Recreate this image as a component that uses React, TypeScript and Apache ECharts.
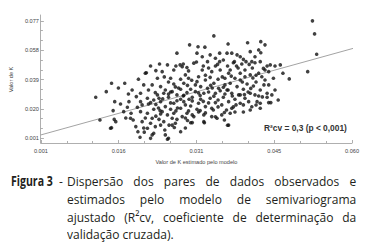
import React, { useEffect, useRef } from 'react';
import * as echarts from 'echarts';

// Axis setup
const xMin = 0.001;
const xMax = 0.06;
const xInterval = 0.01475;
const yMin = 0.001;
const yMax = 0.077;
const yInterval = 0.019;
const xTickLabels = ['0.001', '0.016', '0.031', '0.045', '0.060'];
const yTickLabels = ['0.001', '0.020', '0.039', '0.058', '0.077'];

const xName = 'Valor de K estimado pelo modelo';
const yName = 'Valor de K';
const annotation = 'R²cv = 0,3 (p < 0,001)';

// Fitted line end points [estimated, observed]
const regressionLine: [number, number][] = [
  [0.001, 0.003],
  [0.0602, 0.0592],
];

// Scatter pairs [estimated K, observed K]
const kPairs: [number, number][] = [
  [0.0218, 0.0478], [0.025, 0.0485], [0.0266, 0.0478], [0.0274, 0.0485], [0.0278, 0.0473],
  [0.03, 0.0496], [0.0326, 0.0506], [0.0349, 0.0506], [0.0364, 0.0478], [0.0377, 0.0506],
  [0.0391, 0.0491], [0.0399, 0.0506], [0.0416, 0.0499], [0.0426, 0.0506], [0.0439, 0.0478],
  [0.0208, 0.0431], [0.024, 0.0441], [0.0262, 0.0452], [0.0284, 0.042], [0.0316, 0.0452],
  [0.0334, 0.0441], [0.035, 0.0452], [0.0366, 0.0431], [0.0388, 0.0431], [0.0407, 0.042],
  [0.0423, 0.0431], [0.0442, 0.0441], [0.0231, 0.0398], [0.0256, 0.0398], [0.0275, 0.0392],
  [0.029, 0.0398], [0.0309, 0.0408], [0.0331, 0.0404], [0.0359, 0.0398], [0.0378, 0.0398],
  [0.0397, 0.0408], [0.0429, 0.0408], [0.0205, 0.0355], [0.0221, 0.0355], [0.0237, 0.0344],
  [0.0262, 0.0361], [0.0281, 0.0366], [0.0306, 0.0376], [0.0313, 0.0344], [0.0338, 0.0366],
  [0.0347, 0.0333], [0.0369, 0.0366], [0.0382, 0.0344], [0.0401, 0.0361], [0.0413, 0.0348],
  [0.0433, 0.0355], [0.0246, 0.0322], [0.0275, 0.0327], [0.0294, 0.0327], [0.0326, 0.0333],
  [0.0363, 0.0322], [0.0394, 0.0327], [0.0199, 0.0301], [0.0227, 0.0305], [0.0243, 0.0301],
  [0.0259, 0.0311], [0.0268, 0.029], [0.0287, 0.0305], [0.0303, 0.0311], [0.0319, 0.0301],
  [0.0341, 0.0301], [0.035, 0.0317], [0.0372, 0.0301], [0.0385, 0.029], [0.0407, 0.0301],
  [0.0423, 0.0283], [0.0439, 0.0301], [0.0212, 0.0268], [0.0234, 0.0268], [0.0252, 0.0275],
  [0.0275, 0.0262], [0.0297, 0.0275], [0.0313, 0.0262], [0.0331, 0.0268], [0.0356, 0.0275],
  [0.0378, 0.0262], [0.0397, 0.0268], [0.0202, 0.0225], [0.0218, 0.024], [0.0237, 0.0246],
  [0.0246, 0.0214], [0.0262, 0.0236], [0.0281, 0.0246], [0.0294, 0.0218], [0.0309, 0.0236],
  [0.0322, 0.0214], [0.0341, 0.024], [0.0353, 0.0225], [0.0366, 0.0246], [0.0388, 0.0236],
  [0.0404, 0.0246], [0.0426, 0.0236], [0.0442, 0.024], [0.0224, 0.0197], [0.0256, 0.0197],
  [0.0275, 0.0203], [0.0306, 0.0197], [0.0334, 0.0203], [0.0372, 0.0203], [0.0199, 0.0181],
  [0.0212, 0.0171], [0.024, 0.0181], [0.025, 0.016], [0.0262, 0.0171], [0.0278, 0.0149],
  [0.0287, 0.0171], [0.03, 0.0149], [0.0319, 0.016], [0.0334, 0.0149], [0.0353, 0.016],
  [0.0369, 0.0171], [0.0221, 0.0138], [0.0234, 0.0131], [0.0259, 0.0138], [0.0268, 0.0131],
  [0.0344, 0.0138], [0.0202, 0.0116], [0.0218, 0.0106], [0.0243, 0.0116], [0.0253, 0.0094],
  [0.0265, 0.0106], [0.0297, 0.011], [0.0319, 0.0116], [0.0212, 0.0073], [0.0227, 0.0084],
  [0.0275, 0.0051], [0.0366, 0.0094], [0.0224, 0.0041], [0.0246, 0.003], [0.025, 0.0002],
  [0.0218, 0.0008], [0.0144, 0.0366], [0.0169, 0.0366], [0.0134, 0.0311], [0.0114, 0.0275],
  [0.0183, 0.0322], [0.0195, 0.0392], [0.021, 0.0434], [0.015, 0.0246], [0.0147, 0.0188],
  [0.0167, 0.0181], [0.0122, 0.0127], [0.0149, 0.0131], [0.0152, 0.0116], [0.0142, 0.0073],
  [0.0177, 0.0246], [0.0174, 0.021], [0.0181, 0.0171], [0.018, 0.0138], [0.0185, 0.0127],
  [0.0191, 0.0279], [0.0199, 0.0246], [0.0193, 0.021], [0.019, 0.0084], [0.0194, 0.0051],
  [0.0198, 0.0015], [0.0235, 0.0491], [0.0268, 0.0561], [0.0292, 0.0615], [0.0308, 0.0603],
  [0.0321, 0.06], [0.0221, 0.003], [0.0252, 0.0008], [0.0525, 0.0771], [0.0529, 0.0686],
  [0.0533, 0.0554], [0.0516, 0.0441], [0.0338, 0.0673], [0.0365, 0.0621], [0.0402, 0.0629],
  [0.0427, 0.0636], [0.0435, 0.0615], [0.0427, 0.0564], [0.0423, 0.0582], [0.0416, 0.0538],
  [0.0407, 0.0571], [0.0388, 0.0538], [0.0394, 0.0521], [0.0382, 0.055], [0.0372, 0.0561],
  [0.0363, 0.0561], [0.0349, 0.0561], [0.0331, 0.055], [0.0306, 0.0561], [0.0316, 0.0538],
  [0.0341, 0.0528], [0.0356, 0.0517], [0.0375, 0.0499], [0.041, 0.0506], [0.0445, 0.0485],
  [0.0454, 0.0478], [0.0464, 0.0485], [0.0469, 0.0431], [0.0481, 0.0394], [0.0451, 0.0398],
  [0.0435, 0.0452], [0.0442, 0.0355], [0.0446, 0.024], [0.0439, 0.0275], [0.0435, 0.0387],
  [0.0364, 0.0093], [0.032, 0.0109], [0.0341, 0.0148], [0.0294, 0.0109], [0.042, 0.0246],
  [0.0426, 0.0203], [0.041, 0.0213], [0.0394, 0.0225], [0.0144, 0.0077], [0.0231, 0.029],
  [0.0241, 0.0264], [0.0284, 0.0225], [0.029, 0.0186], [0.0303, 0.0355], [0.0322, 0.0387],
  [0.0359, 0.0355], [0.0373, 0.0283], [0.0403, 0.0309], [0.0407, 0.0192], [0.0416, 0.029],
  [0.0256, 0.0238], [0.0269, 0.0205], [0.028, 0.0283], [0.0297, 0.0251], [0.0328, 0.0238],
  [0.0337, 0.0192], [0.0362, 0.0192], [0.038, 0.0225], [0.0394, 0.0179], [0.0328, 0.0309],
  [0.0309, 0.0303], [0.0271, 0.0335], [0.0252, 0.0374], [0.029, 0.0446], [0.0341, 0.0478],
  [0.0354, 0.0407], [0.0384, 0.0465], [0.0411, 0.0465], [0.0418, 0.0374], [0.0388, 0.0387],
  [0.0233, 0.0205], [0.0208, 0.014], [0.0237, 0.0094], [0.0284, 0.014], [0.0309, 0.0179],
  [0.0322, 0.0173], [0.0378, 0.0179], [0.0237, 0.0166], [0.0224, 0.0257], [0.0214, 0.0322],
  [0.0176, 0.0296], [0.0161, 0.0231], [0.0171, 0.014], [0.0157, 0.0335], [0.0335, 0.0335],
  [0.0346, 0.0257], [0.0365, 0.0322], [0.0426, 0.0322], [0.043, 0.0277], [0.0454, 0.0322],
  [0.046, 0.0257], [0.0305, 0.0504], [0.0328, 0.0465], [0.0369, 0.0452], [0.0397, 0.0452],
  [0.0256, 0.0309], [0.0297, 0.016], [0.0388, 0.029], [0.0259, 0.0094], [0.0284, 0.0075],
  [0.0205, 0.0075], [0.0214, 0.0231], [0.0244, 0.0407], [0.028, 0.0491], [0.0412, 0.04],
  [0.0448, 0.029], [0.0358, 0.0127], [0.0228, 0.0448], [0.0287, 0.0468], [0.0318, 0.0478],
  [0.0345, 0.0488], [0.0381, 0.0478], [0.0405, 0.0488], [0.0432, 0.0462], [0.0296, 0.0385],
  [0.0322, 0.0418], [0.0346, 0.0392], [0.0371, 0.0412], [0.0392, 0.0374], [0.0418, 0.0418],
  [0.0265, 0.0342], [0.0288, 0.0352], [0.0332, 0.0352], [0.0356, 0.034], [0.0408, 0.0332],
  [0.0252, 0.0295], [0.0281, 0.0288], [0.0312, 0.0286], [0.0338, 0.0282], [0.0359, 0.0296],
  [0.0396, 0.0292], [0.0228, 0.0228], [0.0268, 0.0252], [0.0291, 0.0262], [0.0318, 0.0248],
  [0.0346, 0.0212], [0.0375, 0.0212], [0.0418, 0.0224], [0.0236, 0.0188], [0.0266, 0.0186],
  [0.0312, 0.0188], [0.0358, 0.0176], [0.0228, 0.0152], [0.0288, 0.0124], [0.0245, 0.0062],
  [0.0263, 0.0078], [0.0206, 0.0048],
];

const captionLabel = 'Figura 3';
const captionLines = [
  'Dispersão dos pares de dados observados e',
  'estimados pelo modelo de semivariograma',
  'ajustado (R²cv, coeficiente de determinação da',
  'validação cruzada).',
];

const axisGray = '#9a9a9a';
const labelGray = '#444';
const labelFont = '"Liberation Sans", Arial, sans-serif';

export default function App() {
  const ref = useRef<HTMLDivElement>(null);

  useEffect(() => {
    if (!ref.current) return;
    const chart = echarts.init(ref.current, undefined, { renderer: 'svg' });
    const tickCommon = {
      axisTick: { show: true, inside: true, length: 3, lineStyle: { color: axisGray, width: 0.8 } },
      minorTick: { show: true, splitNumber: 3, length: 2, lineStyle: { color: axisGray, width: 0.8 } },
      splitLine: { show: false },
    };
    chart.setOption({
      animation: false,
      backgroundColor: '#ffffff',
      grid: [
        { left: 40, right: 18, top: 21, bottom: 34 },
        { left: 40, right: 18, top: 15, bottom: 29 },
      ],
      xAxis: [
        {
          gridIndex: 0,
          type: 'value',
          min: xMin,
          max: xMax,
          interval: xInterval,
          offset: 5,
          axisLine: { show: true, lineStyle: { color: axisGray, width: 0.8 } },
          ...tickCommon,
          axisLabel: {
            fontSize: 5.6,
            fontFamily: labelFont,
            color: labelGray,
            margin: 5,
            formatter: (v: number) => xTickLabels[Math.round((v - xMin) / xInterval)] ?? '',
          },
          name: xName,
          nameLocation: 'middle',
          nameGap: 16,
          nameTextStyle: { fontSize: 5.6, fontFamily: labelFont, color: labelGray },
        },
        { gridIndex: 1, type: 'value', min: 0, max: 1, show: false },
      ],
      yAxis: [
        {
          gridIndex: 0,
          type: 'value',
          min: yMin,
          max: yMax,
          interval: yInterval,
          axisLine: { show: false },
          ...tickCommon,
          axisLabel: {
            fontSize: 5.6,
            fontFamily: labelFont,
            color: labelGray,
            margin: 2,
            formatter: (v: number) => yTickLabels[Math.round((v - yMin) / yInterval)] ?? '',
          },
          name: yName,
          nameLocation: 'middle',
          nameGap: 18,
          nameTextStyle: { fontSize: 5.6, fontFamily: labelFont, color: labelGray },
        },
        {
          gridIndex: 1,
          type: 'value',
          min: 0,
          max: 1,
          axisLine: { show: true, lineStyle: { color: axisGray, width: 0.8 } },
          axisTick: { show: false },
          axisLabel: { show: false },
          splitLine: { show: false },
        },
      ],
      series: [
        {
          type: 'line',
          xAxisIndex: 0,
          yAxisIndex: 0,
          data: regressionLine,
          symbol: 'none',
          lineStyle: { color: '#8c8c8c', width: 0.8 },
          silent: true,
          z: 1,
        },
        {
          type: 'scatter',
          xAxisIndex: 0,
          yAxisIndex: 0,
          data: kPairs,
          symbol: 'circle',
          symbolSize: 3.6,
          clip: false,
          itemStyle: { color: '#111111' },
          z: 2,
        },
      ],
      graphic: [
        {
          type: 'text',
          left: 264,
          top: 123.5,
          style: {
            text: annotation,
            font: 'bold 8.4px "Liberation Sans", Arial, sans-serif',
            fill: '#333333',
          },
        },
      ],
    });
    return () => chart.dispose();
  }, []);

  const captionBase: React.CSSProperties = {
    position: 'absolute',
    top: 173,
    fontFamily: '"Open Sans", "Noto Sans", sans-serif',
    fontSize: 13.5,
    lineHeight: '17.8px',
    color: '#231f20',
    transformOrigin: '0 0',
  };

  return (
    <div
      style={{
        position: 'absolute',
        left: 0,
        top: 0,
        width: 370,
        height: 245,
        background: '#ffffff',
        overflow: 'hidden',
      }}
    >
      <div ref={ref} style={{ position: 'absolute', left: 0, top: 0, width: 370, height: 172 }} />
      <div
        style={{
          ...captionBase,
          left: 11,
          fontWeight: 700,
          whiteSpace: 'nowrap',
          transform: 'scaleX(0.78)',
        }}
      >
        {captionLabel}
      </div>
      <div style={{ ...captionBase, left: 58.5, transform: 'scaleX(0.89)' }}>-</div>
      <div style={{ ...captionBase, left: 67, width: 325, transform: 'scaleX(0.89)' }}>
        {captionLines.map((line, i) => {
          const last = i === captionLines.length - 1;
          return (
            <div
              key={i}
              style={{
                textAlign: last ? 'left' : 'justify',
                textAlignLast: last ? 'left' : 'justify',
              }}
            >
              {line}
            </div>
          );
        })}
      </div>
    </div>
  );
}
